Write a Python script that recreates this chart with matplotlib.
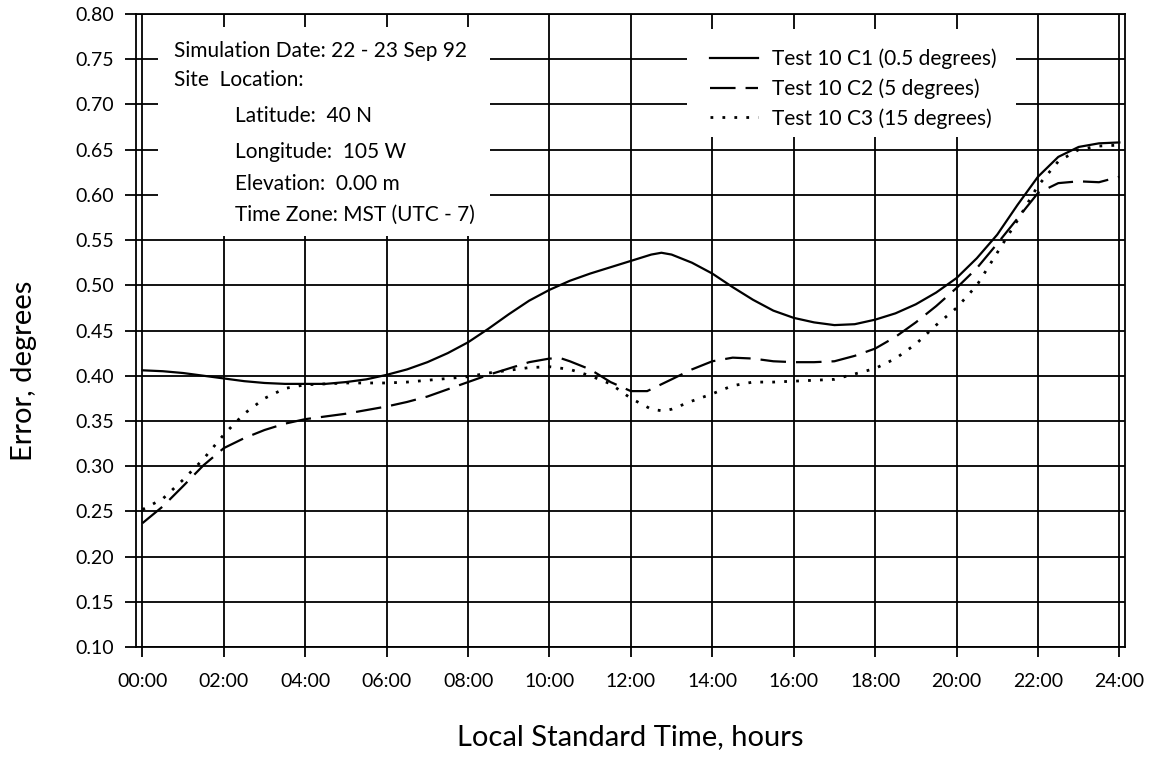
import matplotlib
matplotlib.use("Agg")
import matplotlib.pyplot as plt
from matplotlib.patches import Rectangle

# ---------------- data ----------------
hours_c1 = [0, 0.5, 1, 1.5, 2, 2.5, 3, 3.5, 4, 4.5, 5, 5.5, 6, 6.5, 7, 7.5, 8, 8.5, 9, 9.5,
            10, 10.5, 11, 11.5, 12, 12.5, 12.75, 13, 13.5, 14, 14.5, 15, 15.5, 16, 16.5, 17,
            17.5, 18, 18.5, 19, 19.5, 20, 20.5, 21, 21.5, 22, 22.5, 23, 23.5, 24]
err_c1 = [0.406, 0.405, 0.403, 0.400, 0.397, 0.394, 0.392, 0.391, 0.391, 0.391, 0.393, 0.396,
          0.401, 0.407, 0.415, 0.425, 0.437, 0.452, 0.468, 0.483, 0.495, 0.505, 0.513, 0.520,
          0.527, 0.534, 0.536, 0.534, 0.525, 0.513, 0.498, 0.484, 0.472, 0.464, 0.459, 0.456,
          0.457, 0.462, 0.469, 0.479, 0.492, 0.508, 0.530, 0.556, 0.589, 0.620, 0.642, 0.653,
          0.657, 0.658]

hours_c2 = [0, 0.5, 1, 1.5, 2, 2.5, 3, 3.5, 4, 4.5, 5, 5.5, 6, 6.5, 7, 7.5, 8, 8.5, 9, 9.5,
            10, 10.3, 10.5, 11, 11.5, 12, 12.4, 13, 13.5, 14, 14.5, 15, 15.5, 16, 16.5, 17,
            17.5, 18, 18.5, 19, 19.5, 20, 20.5, 21, 21.5, 22, 22.5, 23, 23.5, 24]
err_c2 = [0.237, 0.2555, 0.278, 0.301, 0.320, 0.331, 0.340, 0.347, 0.352, 0.355, 0.358, 0.362,
          0.366, 0.371, 0.377, 0.385, 0.393, 0.401, 0.408, 0.415, 0.419, 0.419, 0.416, 0.407,
          0.393, 0.383, 0.383, 0.396, 0.407, 0.416, 0.420, 0.419, 0.416, 0.415, 0.415, 0.416,
          0.422, 0.430, 0.443, 0.459, 0.477, 0.497, 0.519, 0.546, 0.574, 0.602, 0.613, 0.615,
          0.614, 0.620]

hours_c3 = [0, 0.5, 1, 1.5, 2, 2.5, 3, 3.5, 4, 4.5, 5, 5.5, 6, 6.5, 7, 7.5, 8, 8.5, 9, 9.5,
            10, 10.5, 11, 11.5, 12, 12.5, 12.8, 13, 13.5, 14, 14.5, 15, 15.5, 16, 16.5, 17,
            17.5, 18, 18.5, 19, 19.5, 20, 20.5, 21, 21.5, 22, 22.5, 23, 23.5, 24]
err_c3 = [0.252, 0.264, 0.285, 0.308, 0.335, 0.358, 0.375, 0.386, 0.390, 0.391, 0.392, 0.392,
          0.392, 0.393, 0.395, 0.397, 0.399, 0.403, 0.406, 0.409, 0.410, 0.407, 0.400, 0.391,
          0.375, 0.363, 0.361, 0.363, 0.372, 0.380, 0.389, 0.393, 0.393, 0.394, 0.395, 0.396,
          0.402, 0.408, 0.419, 0.435, 0.456, 0.475, 0.500, 0.536, 0.572, 0.610, 0.637, 0.650,
          0.654, 0.655]

series_labels = ["Test 10 C1 (0.5 degrees)", "Test 10 C2 (5 degrees)", "Test 10 C3 (15 degrees)"]

x_ticks = list(range(0, 25, 2))
x_tick_labels = ["%02d:00" % h for h in x_ticks]
y_ticks = [0.10, 0.15, 0.20, 0.25, 0.30, 0.35, 0.40, 0.45, 0.50, 0.55, 0.60, 0.65, 0.70, 0.75, 0.80]
y_tick_labels = ["%.2f" % v for v in y_ticks]

info_lines = ["Simulation Date: 22 - 23 Sep 92", "Site  Location:", "Latitude:  40 N",
              "Longitude:  105 W", "Elevation:  0.00 m", "Time Zone: MST (UTC - 7)"]

# ---------------- figure ----------------
plt.rcParams["font.family"] = ["Lato", "DejaVu Sans"]
fig = plt.figure(figsize=(11.56, 7.58), dpi=100)
fig.patch.set_facecolor("white")
ax = fig.add_axes([0.1176, 0.1464, 0.8556, 0.8351])

ax.set_xlim(-0.16, 24.14)
ax.set_ylim(0.10, 0.80)
ax.set_axisbelow(True)
ax.grid(True, color="black", linewidth=1.3)

for sp in ax.spines.values():
    sp.set_linewidth(1.3)
    sp.set_color("black")

ax.set_xticks(x_ticks)
ax.set_xticklabels(x_tick_labels)
ax.set_yticks(y_ticks)
ax.set_yticklabels(y_tick_labels)
ax.tick_params(axis="x", direction="out", length=7, width=1.3, pad=12, labelsize=14)
ax.tick_params(axis="y", direction="out", length=8, width=1.3, pad=8, labelsize=14)

# white backgrounds of the info block and the legend (they hide the grid)
ax.add_patch(Rectangle((0.37, 0.554), 8.18, 0.232, facecolor="white", edgecolor="none", zorder=1))
ax.add_patch(Rectangle((13.39, 0.6637), 8.06, 0.1196, facecolor="white", edgecolor="none", zorder=1))

l1, = ax.plot(hours_c1, err_c1, color="black", linewidth=1.6, linestyle="-", zorder=3,
              label=series_labels[0])
l2, = ax.plot(hours_c2, err_c2, color="black", linewidth=1.6, linestyle=(0, (11.5, 4.5)),
              zorder=3, label=series_labels[1])
l3, = ax.plot(hours_c3, err_c3, color="black", linewidth=2.0, linestyle=(0, (1, 3.3)),
              zorder=3, label=series_labels[2])

# info text
info_x = [0.77, 0.77, 2.27, 2.27, 2.27, 2.27]
info_y = [0.7591, 0.7270, 0.6872, 0.6474, 0.6120, 0.5777]
for tx, ty, s in zip(info_x, info_y, info_lines):
    ax.text(tx, ty, s, fontsize=15, ha="left", va="center", zorder=4)

leg = ax.legend(handles=[l1, l2, l3], loc="upper left", bbox_to_anchor=(13.94, 0.7618),
                bbox_transform=ax.transData, frameon=False, fontsize=15, borderpad=0,
                borderaxespad=0, handlelength=2.3, handletextpad=0.67, labelspacing=0.44)
leg.set_zorder(5)

ax.set_xlabel("Local Standard Time, hours", fontsize=21)
ax.xaxis.set_label_coords(0.5, -0.142)
ax.xaxis.label.set_va("center")
ax.set_ylabel("Error, degrees", fontsize=21)
ax.yaxis.set_label_coords(-0.1132, 0.436)
ax.yaxis.label.set_va("center")

fig.savefig("out.png", dpi=100)
